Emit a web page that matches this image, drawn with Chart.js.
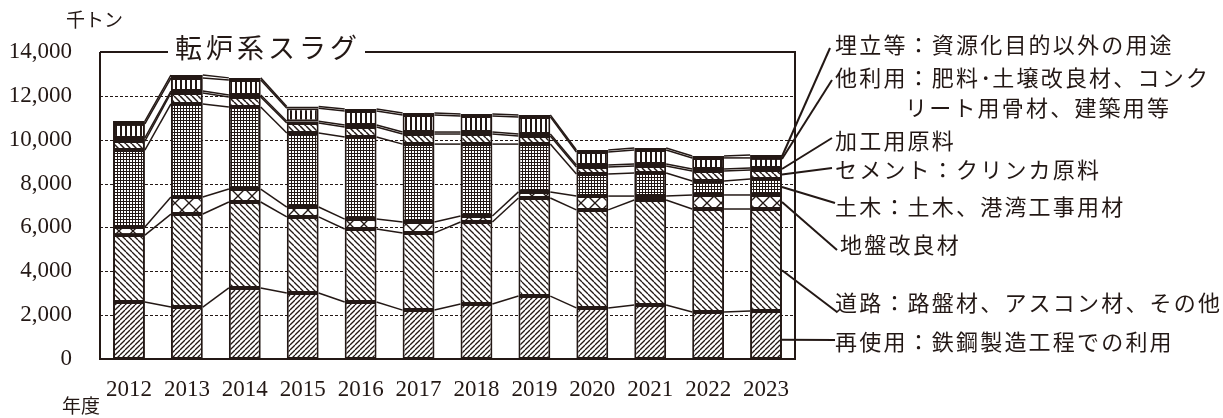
<!DOCTYPE html>
<html lang="ja">
<head>
<meta charset="utf-8">
<title>転炉系スラグ</title>
<script src="https://cdn.jsdelivr.net/npm/chart.js@4.4.1/dist/chart.umd.min.js"></script>
<style>
  html, body { margin: 0; padding: 0; background: #fff; }
</style>
</head>
<body>
<canvas id="slag" width="1223" height="418"></canvas>
<script>
// data (千トン), stacked bottom -> top
const years = ["2012", "2013", "2014", "2015", "2016", "2017", "2018", "2019", "2020", "2021", "2022", "2023"];
const reuse      = [2600, 2370, 3240, 3010, 2600, 2230, 2510, 2870, 2330, 2460, 2140, 2190];
const road       = [3050, 4240, 3920, 3470, 3330, 3520, 3740, 4470, 4470, 4790, 4700, 4650];
const ground     = [370, 780, 590, 450, 450, 500, 270, 280, 630, 180, 640, 640];
const civil      = [3510, 4240, 3740, 3380, 3740, 3550, 3280, 2180, 1010, 1050, 640, 730];
const cement     = [410, 500, 460, 450, 460, 460, 460, 370, 320, 320, 450, 410];
const processing = [140, 90, 90, 80, 90, 90, 90, 90, 90, 90, 90, 90];
const otherUse   = [640, 590, 680, 590, 640, 780, 730, 780, 590, 640, 510, 460];
const landfill   = [130, 140, 100, 90, 90, 90, 90, 90, 90, 90, 90, 130];
const yTicks = [0, 2000, 4000, 6000, 8000, 10000, 12000, 14000];

const ink = '#231815';
const canvas = document.getElementById('slag');
const mainCtx = canvas.getContext('2d');

function makePattern(size, draw) {
  const c = document.createElement('canvas');
  c.width = size; c.height = size;
  const g = c.getContext('2d');
  g.fillStyle = '#fff';
  g.fillRect(0, 0, size, size);
  g.strokeStyle = ink;
  g.fillStyle = ink;
  draw(g, size);
  return mainCtx.createPattern(c, 'repeat');
}

// "////"
const slashFwd = makePattern(5, (g, s) => {
  g.lineWidth = 1.3;
  for (let k = 0; k <= 2; k++) {
    g.beginPath(); g.moveTo(0, k * s); g.lineTo(s, k * s - s); g.stroke();
  }
});
// "\\\\"
function slashBack(s, w) {
  return makePattern(s, (g) => {
    g.lineWidth = w;
    for (let k = -1; k <= 1; k++) {
      g.beginPath(); g.moveTo(0, k * s); g.lineTo(s, k * s + s); g.stroke();
    }
  });
}
const crossX = makePattern(14, (g, s) => {
  g.lineWidth = 1.3;
  g.beginPath(); g.moveTo(0, 0); g.lineTo(s, s); g.stroke();
  g.beginPath(); g.moveTo(s, 0); g.lineTo(0, s); g.stroke();
});
const mesh = makePattern(3, (g, s) => {
  g.fillRect(0, 0, s, 1);
  g.fillRect(0, 0, 1, s);
});
const vertical = makePattern(5, (g, s) => {
  g.fillRect(0, 0, 2, s);
});

const fills = [slashFwd, slashBack(6, 1.3), crossX, mesh, slashBack(6, 1.5), '#fff', vertical, ink];
const seriesNames = ["再使用", "道路", "地盤改良材", "土木", "セメント", "加工用原料", "他利用", "埋立等"];
const seriesData = [reuse, road, ground, civil, cement, processing, otherUse, landfill];

// right side notes: dataset index, point on 2023 segment (0..1), leader end, text lines
const notes = [
  { ds: 7, at: 0.5, ex: 830, ey: 48,  lines: [[835, 45, "埋立等：資源化目的以外の用途"]] },
  { ds: 6, at: 0.9, ex: 832, ey: 80,  lines: [[835, 78, "他利用：肥料･土壌改良材、コンク"], [905, 108, "リート用骨材、建築用等"]] },
  { ds: 5, at: 0.5, ex: 832, ey: 138, lines: [[835, 141, "加工用原料"]] },
  { ds: 4, at: 0.5, ex: 832, ey: 168, lines: [[835, 170, "セメント：クリンカ原料"]] },
  { ds: 3, at: 0.5, ex: 835, ey: 203, lines: [[835, 207, "土木：土木、港湾工事用材"]] },
  { ds: 2, at: 0.5, ex: 837, ey: 250, lines: [[840, 245, "地盤改良材"]] },
  { ds: 1, at: 0.4, ex: 837, ey: 312, lines: [[835, 303, "道路：路盤材、アスコン材、その他"]] },
  { ds: 0, at: 0.4, ex: 835, ey: 340, lines: [[835, 342, "再使用：鉄鋼製造工程での利用"]] }
];

function spacedText(ctx, text, x, y, pitch) {
  for (const ch of text) {
    ctx.fillText(ch, x, y);
    x += (ch === '･') ? pitch / 2 : pitch;
  }
}

const framePlugin = {
  id: 'framePlugin',
  beforeDatasetsDraw(chart) {
    const { ctx, chartArea: a, scales: { y } } = chart;
    ctx.save();
    ctx.strokeStyle = ink;
    ctx.lineWidth = 1;
    ctx.setLineDash([3, 2]);
    yTicks.slice(1, -1).forEach(v => {
      const py = Math.round(y.getPixelForValue(v)) + 0.5;
      ctx.beginPath(); ctx.moveTo(a.left, py); ctx.lineTo(a.right, py); ctx.stroke();
    });
    ctx.restore();
  },
  afterDatasetsDraw(chart) {
    const { ctx, chartArea: a } = chart;
    ctx.save();
    ctx.strokeStyle = ink;
    ctx.fillStyle = ink;

    // lines joining the segment tops of neighbouring bars
    ctx.lineWidth = 1.5;
    chart.data.datasets.forEach((d, di) => {
      const bars = chart.getDatasetMeta(di).data;
      for (let i = 0; i < bars.length - 1; i++) {
        const b1 = bars[i].getProps(['x', 'y', 'width'], true);
        const b2 = bars[i + 1].getProps(['x', 'y', 'width'], true);
        ctx.beginPath();
        ctx.moveTo(b1.x + b1.width / 2, b1.y);
        ctx.lineTo(b2.x - b2.width / 2, b2.y);
        ctx.stroke();
      }
    });

    // frame
    ctx.lineWidth = 2;
    ctx.beginPath();
    ctx.moveTo(a.left, a.top); ctx.lineTo(a.left, a.bottom); ctx.lineTo(a.right, a.bottom); ctx.lineTo(a.right, a.top);
    ctx.lineTo(365, a.top);
    ctx.moveTo(168, a.top); ctx.lineTo(a.left, a.top);
    ctx.stroke();

    ctx.textBaseline = 'middle';
    ctx.textAlign = 'left';
    ctx.font = '27px "Noto Sans CJK JP"';
    spacedText(ctx, "転炉系スラグ", 175, 48, 31);

    ctx.font = '19px "Noto Sans CJK JP"';
    ctx.fillText("千トン", 66, 20);
    ctx.fillText("年度", 62, 406);

    // leader lines and notes
    const last = years.length - 1;
    ctx.font = '22px "Noto Sans CJK JP"';
    ctx.lineWidth = 2;
    notes.forEach(n => {
      const bar = chart.getDatasetMeta(n.ds).data[last].getProps(['x', 'y', 'base', 'width'], true);
      const sy = bar.base + (bar.y - bar.base) * n.at;
      ctx.beginPath();
      ctx.moveTo(bar.x + bar.width / 2, sy);
      ctx.lineTo(n.ex, n.ey);
      ctx.stroke();
      n.lines.forEach(([tx, ty, t]) => spacedText(ctx, t, tx, ty, 24.2));
    });
    ctx.restore();
  }
};

new Chart(canvas, {
  type: 'bar',
  data: {
    labels: years,
    datasets: seriesData.map((vals, i) => ({
      label: seriesNames[i],
      data: vals,
      backgroundColor: fills[i],
      borderColor: ink,
      borderWidth: 2,
      borderSkipped: false,
      categoryPercentage: 1,
      barPercentage: 0.55
    }))
  },
  options: {
    responsive: false,
    animation: false,
    layout: { padding: { left: 0, right: 428, top: 52, bottom: 0 } },
    plugins: {
      legend: { display: false },
      tooltip: { enabled: false }
    },
    scales: {
      x: {
        stacked: true,
        grid: { display: false },
        border: { display: false },
        ticks: {
          color: ink,
          font: { family: 'Liberation Serif', size: 23 },
          padding: 9,
          maxRotation: 0
        },
        afterFit: s => { s.height = 59; }
      },
      y: {
        stacked: true,
        min: 0,
        max: 14000,
        grid: { display: false },
        border: { display: false },
        afterBuildTicks: s => { s.ticks = yTicks.map(v => ({ value: v })); },
        ticks: {
          color: ink,
          font: { family: 'Liberation Serif', size: 23 },
          padding: 20,
          callback: v => v.toLocaleString('en-US')
        },
        afterFit: s => { s.width = 100; }
      }
    }
  },
  plugins: [framePlugin]
});
</script>
</body>
</html>
